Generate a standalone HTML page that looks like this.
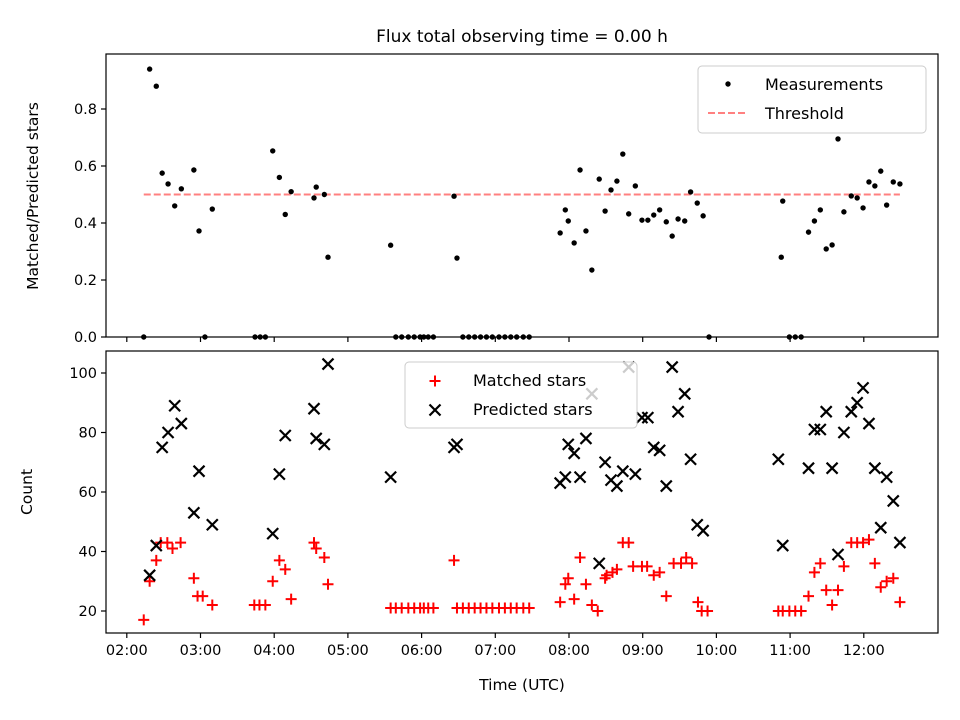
<!DOCTYPE html>
<html><head><meta charset="utf-8"><style>
html,body{margin:0;padding:0;background:#fff;}
svg{display:block;font-family:"DejaVu Sans","Liberation Sans",sans-serif;}
</style></head><body>
<svg id="chart" width="960" height="720" viewBox="0 0 960 720" xmlns="http://www.w3.org/2000/svg"></svg>
<script>
const xTickLabels = ["02:00","03:00","04:00","05:00","06:00","07:00","08:00","09:00","10:00","11:00","12:00"];
const xTickHours = [2,3,4,5,6,7,8,9,10,11,12];
const topTickValues = [0,0.2,0.4,0.6,0.8];
const topTickLabels = ["0.0","0.2","0.4","0.6","0.8"];
const botTickValues = [20,40,60,80,100];
const botTickLabels = ["20","40","60","80","100"];
const threshold = 0.5;
const thresholdStart = 2.23, thresholdEnd = 12.49;

const ratioTimes = [2.23,2.31,2.40,2.48,2.56,2.65,2.74,2.91,2.98,3.06,3.16,3.74,3.81,3.88,3.98,4.07,4.15,4.23,4.54,4.57,4.68,4.73,5.58,5.65,5.73,5.82,5.90,5.98,6.03,6.09,6.16,6.44,6.48,6.56,6.64,6.72,6.80,6.88,6.96,7.05,7.13,7.21,7.29,7.38,7.46,7.88,7.95,7.99,8.07,8.15,8.23,8.31,8.41,8.49,8.57,8.65,8.73,8.81,8.90,8.99,9.07,9.15,9.23,9.32,9.40,9.48,9.57,9.65,9.74,9.82,9.90,10.88,10.90,10.99,11.07,11.15,11.25,11.33,11.41,11.49,11.57,11.65,11.73,11.83,11.91,11.99,12.07,12.15,12.23,12.31,12.40,12.49];
const ratioValues = [0,0.94,0.88,0.575,0.537,0.46,0.52,0.586,0.372,0,0.449,0,0,0,0.653,0.56,0.43,0.51,0.488,0.526,0.50,0.28,0.322,0,0,0,0,0,0,0,0,0.494,0.277,0,0,0,0,0,0,0,0,0,0,0,0,0.365,0.446,0.407,0.33,0.586,0.372,0.235,0.554,0.442,0.516,0.547,0.642,0.432,0.53,0.41,0.41,0.428,0.446,0.404,0.354,0.414,0.407,0.509,0.47,0.425,0,0.28,0.477,0,0,0,0.368,0.407,0.446,0.309,0.323,0.695,0.439,0.495,0.488,0.453,0.544,0.53,0.582,0.463,0.544,0.537];

const matchedTimes = [2.23,2.31,2.40,2.46,2.55,2.62,2.73,2.91,2.96,3.03,3.16,3.73,3.80,3.88,3.98,4.07,4.15,4.23,4.54,4.57,4.68,4.73,5.58,5.65,5.73,5.82,5.90,5.98,6.03,6.09,6.16,6.44,6.48,6.56,6.64,6.72,6.80,6.88,6.96,7.05,7.13,7.21,7.29,7.38,7.46,7.88,7.95,7.99,8.07,8.15,8.23,8.31,8.39,8.49,8.51,8.59,8.65,8.73,8.81,8.87,8.99,9.06,9.15,9.23,9.32,9.42,9.52,9.59,9.67,9.75,9.80,9.88,10.84,10.90,10.99,11.07,11.15,11.25,11.33,11.41,11.49,11.57,11.65,11.73,11.83,11.91,11.99,12.07,12.15,12.23,12.31,12.40,12.49];
const matchedValues = [17,30,37,43,43,41,43,31,25,25,22,22,22,22,30,37,34,24,43,41,38,29,21,21,21,21,21,21,21,21,21,37,21,21,21,21,21,21,21,21,21,21,21,21,21,23,29,31,24,38,29,22,20,31,32,33,34,43,43,35,35,35,32,33,25,36,36,38,36,23,20,20,20,20,20,20,20,25,33,36,27,22,27,35,43,43,43,44,36,28,30,31,23];

const predictedTimes = [2.31,2.40,2.48,2.56,2.65,2.74,2.91,2.98,3.16,3.98,4.07,4.15,4.54,4.57,4.68,4.73,5.58,6.44,6.48,7.88,7.95,7.99,8.07,8.15,8.23,8.31,8.41,8.49,8.57,8.65,8.73,8.81,8.90,8.99,9.07,9.15,9.23,9.32,9.40,9.48,9.57,9.65,9.74,9.82,10.84,10.90,11.25,11.33,11.41,11.49,11.57,11.65,11.73,11.83,11.91,11.99,12.07,12.15,12.23,12.31,12.40,12.49];
const predictedValues = [32,42,75,80,89,83,53,67,49,46,66,79,88,78,76,103,65,75,76,63,65,76,73,65,78,93,36,70,64,62,67,102,66,85,85,75,74,62,102,87,93,71,49,47,71,42,68,81,81,87,68,39,80,87,90,95,83,68,48,65,57,43];

const NS = "http://www.w3.org/2000/svg";
const svg = document.getElementById('chart');
function mk(tag, attrs, parent){const e=document.createElementNS(NS,tag);for(const k in attrs)e.setAttribute(k,attrs[k]);(parent||svg).appendChild(e);return e;}

const L=106,R=938,T1=54,B1=337,T2=351,B2=633;
function xs(h){return 126.8+(h-2)*73.7;}
function ys1(v){return 337-v*285;}
function ys2(v){return 611-(v-20)*2.975;}

const title=mk('text',{x:522,y:42,'text-anchor':'middle','font-size':17,fill:'#000'});
title.textContent='Flux total observing time = 0.00 h';



function axes(top,bottom,ys,tv,tl,name,showX){
  const g=mk('g',{});
  
  
  xTickHours.forEach((h,i)=>{
    const x=xs(h);
    mk('line',{x1:x,x2:x,y1:bottom,y2:bottom+5,stroke:'#000','stroke-width':1.2},g);
    if(showX){const t=mk('text',{x:x,y:bottom+22,'text-anchor':'middle','font-size':14.5},g);t.textContent=xTickLabels[i];
      
      }
  });
  tv.forEach((v,i)=>{
    const y=ys(v);
    mk('line',{x1:L-5,x2:L,y1:y,y2:y,stroke:'#000','stroke-width':1.2},g);
    const t=mk('text',{x:L-9,y:y+5,'text-anchor':'end','font-size':14.5},g);t.textContent=tl[i];
    
    
  });
  return g;
}
axes(T1,B1,ys1,topTickValues,topTickLabels,'top-axes',false);
axes(T2,B2,ys2,botTickValues,botTickLabels,'bottom-axes',true);

const th=mk('line',{x1:xs(thresholdStart),x2:xs(thresholdEnd),y1:ys1(threshold),y2:ys1(threshold),stroke:'#ff8080','stroke-width':2,'stroke-dasharray':'7,3'});



const gm=mk('g',{});


ratioTimes.forEach((t,i)=>{
  const c=mk('circle',{cx:xs(t),cy:ys1(ratioValues[i]),r:2.7,fill:'#000'},gm);
  
  
});

const gr=mk('g',{});


matchedTimes.forEach((t,i)=>{
  const x=xs(t),y=ys2(matchedValues[i]);
  const p=mk('path',{d:`M${x-5.5},${y}H${x+5.5}M${x},${y-5.5}V${y+5.5}`,stroke:'#ff0000','stroke-width':2,fill:'none'},gr);
  
  
});
const gp=mk('g',{});


predictedTimes.forEach((t,i)=>{
  const x=xs(t),y=ys2(predictedValues[i]);
  const p=mk('path',{d:`M${x-5.5},${y-5.5}L${x+5.5},${y+5.5}M${x-5.5},${y+5.5}L${x+5.5},${y-5.5}`,stroke:'#000','stroke-width':2.2,fill:'none'},gp);
  
  
});

const f1=mk('rect',{x:L,y:T1,width:R-L,height:B1-T1,fill:'none',stroke:'#000','stroke-width':1.2});


const f2=mk('rect',{x:L,y:T2,width:R-L,height:B2-T2,fill:'none',stroke:'#000','stroke-width':1.2});



const lg1=mk('g',{});


mk('rect',{x:698,y:66,width:228,height:67,rx:4,fill:'#fff','fill-opacity':0.8,stroke:'#ccc'},lg1);
mk('circle',{cx:728,cy:84,r:2.7,fill:'#000'},lg1);
let t=mk('text',{x:765,y:90,'font-size':16},lg1);t.textContent='Measurements';
mk('line',{x1:708,x2:748,y1:113,y2:113,stroke:'#ff8080','stroke-width':2,'stroke-dasharray':'7,3'},lg1);
t=mk('text',{x:765,y:119,'font-size':16},lg1);t.textContent='Threshold';

const lg2=mk('g',{});


mk('rect',{x:405,y:362,width:232,height:66,rx:4,fill:'#fff','fill-opacity':0.8,stroke:'#ccc'},lg2);
mk('path',{d:'M429.5,381H440.5M435,375.5V386.5',stroke:'#ff0000','stroke-width':2,fill:'none'},lg2);
t=mk('text',{x:473,y:386,'font-size':16},lg2);t.textContent='Matched stars';
mk('path',{d:'M429.5,404.5L440.5,415.5M429.5,415.5L440.5,404.5',stroke:'#000','stroke-width':2.2,fill:'none'},lg2);
t=mk('text',{x:473,y:415,'font-size':16},lg2);t.textContent='Predicted stars';

t=mk('text',{x:38,y:196,'text-anchor':'middle','font-size':15.5,transform:'rotate(-90 38 196)'});t.textContent='Matched/Predicted stars';


t=mk('text',{x:32,y:492,'text-anchor':'middle','font-size':15.5,transform:'rotate(-90 32 492)'});t.textContent='Count';


t=mk('text',{x:522,y:690,'text-anchor':'middle','font-size':15.5});t.textContent='Time (UTC)';


</script>
</body></html>
